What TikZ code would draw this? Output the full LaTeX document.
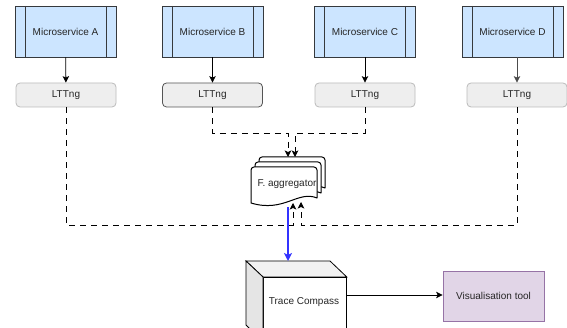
\documentclass[tikz,border=0pt]{standalone}
\usepackage{fontspec}
\setmainfont{Liberation Sans}
\usetikzlibrary{arrows.meta,calc}
\definecolor{msfill}{HTML}{CCE5FF}
\definecolor{msline}{HTML}{36393D}
\definecolor{ltfill}{HTML}{EEEEEE}
\definecolor{ltline}{HTML}{BBBBBB}
\definecolor{ltlineB}{HTML}{555555}
\definecolor{visfill}{HTML}{E1D5E7}
\definecolor{visline}{HTML}{9673A6}
\definecolor{blueline}{HTML}{3333FF}
\definecolor{txt}{HTML}{262626}
\begin{document}
\begin{tikzpicture}[x=1pt,y=-1pt,
  every node/.style={font=\fontsize{10}{12}\selectfont, text=txt},
  tip/.style={-{Stealth[length=6.5pt,width=6.5pt,inset=1.5pt]}},
  msbox/.style={draw=msline, fill=msfill, line width=0.8pt, minimum width=101pt, minimum height=51pt, inner sep=0pt,
    path picture={
      \draw[msline, line width=0.8pt] ([xshift=10pt]path picture bounding box.north west) -- ([xshift=10pt]path picture bounding box.south west);
      \draw[msline, line width=0.8pt] ([xshift=-10pt]path picture bounding box.north east) -- ([xshift=-10pt]path picture bounding box.south east);
    }},
  ltbox/.style={draw=ltline, fill=ltfill, line width=0.8pt, rounded corners=4pt, minimum width=100pt, minimum height=24pt, inner sep=0pt},
  conn/.style={line width=0.8pt, black},
  dconn/.style={line width=0.8pt, black, dash pattern=on 6pt off 5pt},
  doc/.style={draw=black, fill=white, line width=1pt, line join=round}
]
\clip (0,0) rectangle (567,328);

% Microservices
\node[msbox] (msA) at (65.5,31.5) {Microservice A};
\node[msbox] (msB) at (212.5,31.5) {Microservice B};
\node[msbox] (msC) at (365,31.5) {Microservice C};
\node[msbox] (msD) at (512.5,31.5) {Microservice D};

% LTTng
\node[ltbox] (ltA) at (66,95) {LTTng};
\node[ltbox, draw=ltlineB] (ltB) at (212.5,95) {LTTng};
\node[ltbox] (ltC) at (365,95) {LTTng};
\node[ltbox] (ltD) at (517,95) {LTTng};

\draw[conn,tip] (msA) -- (ltA);
\draw[conn,tip] (msB) -- (ltB);
\draw[conn,tip] (msC) -- (ltC);
\draw[conn,tip,draw=black!70] (msD.south -| ltD.north) -- (ltD);

% Aggregator (stacked documents)
\foreach \dx/\dy in {8/-10,4/-5,0/0}{
  \begin{scope}[shift={(\dx,\dy)}]
    \draw[doc] (251,203) -- (251,170) arc[start angle=180,end angle=270,radius=3] -- (314,167)
      arc[start angle=270,end angle=360,radius=3] -- (317,198)
      .. controls (298,190) and (284,213) .. (251,203) -- cycle;
  \end{scope}
}
\node[inner sep=0pt, minimum width=66pt, minimum height=30pt] (agg) at (287,184) {F. aggregator};

\coordinate (jB) at (288,133);
\coordinate (inB) at (288,157);
\coordinate (jC) at (295,133);
\coordinate (inC) at (295,157);
\coordinate (jA) at (293,225);
\coordinate (outA) at (293,203);
\coordinate (jD) at (301,225);
\coordinate (outD) at (301,202);

\draw[dconn,tip] (ltB.south) |- (jB) -- (inB);
\draw[dconn,tip] (ltC.south) |- (jC) -- (inC);
\draw[dconn,tip] (ltA.south) |- (jA) -- (outA);
\draw[dconn,tip] (ltD.south) |- (jD) -- (outD);

% Trace Compass cube
\node[draw=black, fill=white, line width=0.8pt, minimum width=83pt, minimum height=64pt, inner sep=0pt, anchor=north west] (tc) at (263,277) {};
\draw[line width=0.8pt, fill=black!5] (tc.north west) -- ++(-17,-16) -- ++(84,0) -- (tc.north east) -- cycle;
\draw[line width=0.8pt, fill=black!10] (tc.north west) -- ++(-17,-16) -- ++(0,64) -- (tc.south west) -- cycle;
\node at (304,302) {Trace Compass};
\coordinate (aggbot) at (288,207);
\coordinate (tctop) at (288,261);
\draw[line width=1.5pt, blueline, -{Stealth[length=8pt,width=8pt,inset=2pt]}] (aggbot) -- (tctop);

% Visualisation tool
\node[draw=visline, fill=visfill, line width=0.8pt, minimum width=101pt, minimum height=50pt, inner sep=0pt] (vis) at (493.5,296) {Visualisation tool};
\coordinate (tcout) at (346,295);
\draw[conn,tip] (tcout) -- (tcout -| vis.west);
\end{tikzpicture}
\end{document}
